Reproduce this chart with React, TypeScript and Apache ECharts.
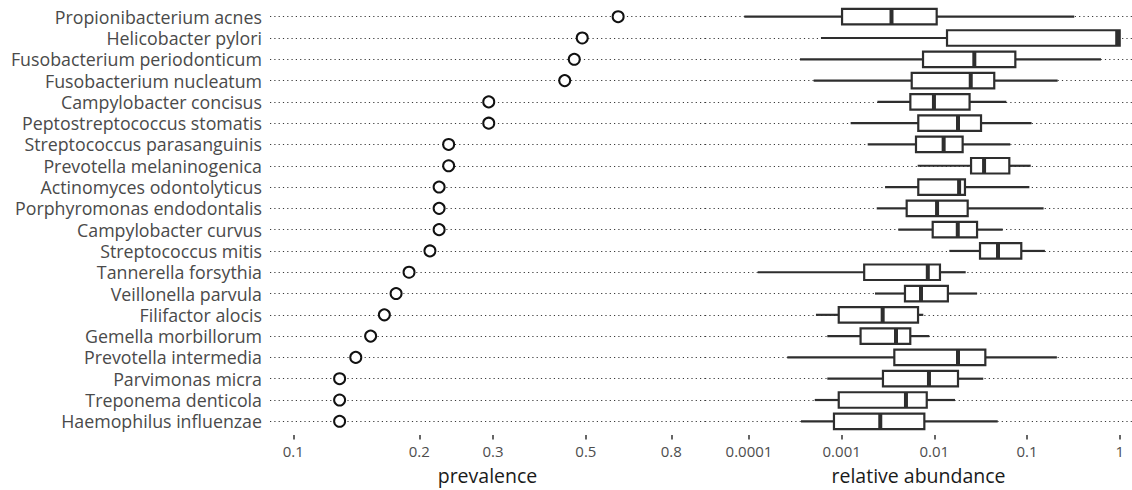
import React, { useEffect, useRef } from "react";
import * as echarts from "echarts";

const categories = [
  "Propionibacterium acnes",
  "Helicobacter pylori",
  "Fusobacterium periodonticum",
  "Fusobacterium nucleatum",
  "Campylobacter concisus",
  "Peptostreptococcus stomatis",
  "Streptococcus parasanguinis",
  "Prevotella melaninogenica",
  "Actinomyces odontolyticus",
  "Porphyromonas endodontalis",
  "Campylobacter curvus",
  "Streptococcus mitis",
  "Tannerella forsythia",
  "Veillonella parvula",
  "Filifactor alocis",
  "Gemella morbillorum",
  "Prevotella intermedia",
  "Parvimonas micra",
  "Treponema denticola",
  "Haemophilus influenzae",
];

const prevalence = [0.597, 0.49, 0.469, 0.445, 0.293, 0.293, 0.235, 0.235, 0.223, 0.223, 0.223, 0.212, 0.189, 0.176, 0.165, 0.153, 0.141, 0.129, 0.129, 0.129];

const whiskerLow = [0.000089, 0.000598, 0.000355, 0.000499, 0.00243, 0.00125, 0.00191, 0.00661, 0.00294, 0.00239, 0.00408, 0.01452, 0.000124, 0.00229, 0.000528, 0.0007, 0.000259, 0.0007, 0.000512, 0.000364];
const q1 = [0.00101, 0.0137, 0.00755, 0.0057, 0.00551, 0.00671, 0.00634, 0.0249, 0.00671, 0.00503, 0.0096, 0.0311, 0.00175, 0.00482, 0.00093, 0.0016, 0.0037, 0.00279, 0.00093, 0.000826];
const median = [0.00345, 0.94, 0.027, 0.0247, 0.0099, 0.018, 0.0126, 0.0344, 0.0185, 0.0107, 0.0179, 0.0486, 0.0085, 0.00718, 0.00277, 0.00386, 0.018, 0.00875, 0.00494, 0.00261];
const q3 = [0.0106, 1.0, 0.0748, 0.0443, 0.024, 0.0319, 0.0202, 0.0644, 0.0214, 0.0229, 0.0289, 0.0867, 0.0115, 0.014, 0.00667, 0.0055, 0.0355, 0.018, 0.00828, 0.0078];
const whiskerHigh = [0.323, 1.0, 0.628, 0.214, 0.0598, 0.112, 0.066, 0.1096, 0.106, 0.151, 0.0547, 0.156, 0.0218, 0.0289, 0.0076, 0.00883, 0.21, 0.0337, 0.0167, 0.0483];

const prevTickValues = [0.1, 0.2, 0.3, 0.5, 0.8];
const prevTickLabels = ["0.1", "0.2", "0.3", "0.5", "0.8"];
const abundTickValues = [0.0001, 0.001, 0.01, 0.1, 1];
const abundTickLabels = ["0.0001", "0.001", "0.01", "0.1", "1"];

const FONT = "'Open Sans', 'Noto Sans', sans-serif";
const lg = (v: number) => Math.log10(v);

function labelFor(values: number[], labels: string[]) {
  const logs = values.map(lg);
  return (v: number) => {
    const i = logs.findIndex((t) => Math.abs(t - v) < 1e-6);
    return i >= 0 ? labels[i] : "";
  };
}

export default function App() {
  const ref = useRef<HTMLDivElement>(null);
  useEffect(() => {
    if (!ref.current) return;
    const chart = echarts.init(ref.current, null, { renderer: "svg" });
    const gridTop = 16.7;
    const gridHeight = 406.3;
    const dotted = { color: "#3a3a3a", width: 1.1, type: [1.2, 3.1] as number[] };

    const yAxisBase = {
      type: "category" as const,
      data: categories,
      inverse: true,
      boundaryGap: false,
      axisLine: { show: false },
      axisTick: { show: false },
      splitLine: { show: true, interval: 0, lineStyle: dotted },
    };

    const xAxisBase = {
      type: "value" as const,
      position: "bottom" as const,
      offset: 13.7,
      axisLine: { show: false },
      splitLine: { show: false },
      nameLocation: "middle" as const,
      nameGap: 30,
      nameTextStyle: { fontFamily: FONT, fontSize: 19.5, color: "#1a1a1a" },
    };

    const boxData = categories.map((_, i) => [
      i,
      lg(whiskerLow[i]),
      lg(q1[i]),
      lg(median[i]),
      lg(q3[i]),
      lg(whiskerHigh[i]),
    ]);

    const tickLabelStyle = {
      fontFamily: FONT,
      fontSize: 15,
      color: "#4d4d4d",
      margin: 8,
    };

    chart.setOption({
      animation: false,
      grid: [
        { left: 270, width: 435, top: gridTop, height: gridHeight },
        { left: 705, width: 427, top: gridTop, height: gridHeight },
      ],
      xAxis: [
        {
          ...xAxisBase,
          gridIndex: 0,
          min: -1.0557,
          max: -0.0165,
          name: "prevalence",
          axisTick: {
            show: true,
            length: 4.5,
            customValues: prevTickValues.map(lg),
            lineStyle: { color: "#333", width: 1.5 },
          },
          axisLabel: {
            ...tickLabelStyle,
            customValues: prevTickValues.map(lg),
            formatter: labelFor(prevTickValues, prevTickLabels),
          },
        },
        {
          ...xAxisBase,
          gridIndex: 1,
          min: -4.4745,
          max: 0.1327,
          name: "relative abundance",
          axisTick: {
            show: true,
            length: 4.5,
            customValues: abundTickValues.map(lg),
            lineStyle: { color: "#333", width: 1.5 },
          },
          axisLabel: {
            ...tickLabelStyle,
            customValues: abundTickValues.map(lg),
            formatter: labelFor(abundTickValues, abundTickLabels),
          },
        },
      ],
      yAxis: [
        {
          ...yAxisBase,
          gridIndex: 0,
          axisLabel: {
            show: true,
            interval: 0,
            margin: 8,
            fontFamily: FONT,
            fontSize: 17.8,
            lineHeight: 20,
            color: "#4a4a4a",
          },
        },
        {
          ...yAxisBase,
          gridIndex: 1,
          axisLabel: { show: false },
        },
      ],
      series: [
        {
          type: "scatter",
          xAxisIndex: 0,
          yAxisIndex: 0,
          symbol: "circle",
          symbolSize: 11,
          itemStyle: { color: "#ffffff", borderColor: "#111111", borderWidth: 2, opacity: 1 },
          data: categories.map((c, i) => [lg(prevalence[i]), c]),
          z: 5,
        },
        {
          type: "custom",
          xAxisIndex: 1,
          yAxisIndex: 1,
          data: boxData,
          z: 5,
          renderItem: (params: any, api: any) => {
            const idx = api.value(0);
            const pLow = api.coord([api.value(1), idx]);
            const pQ1 = api.coord([api.value(2), idx]);
            const pMed = api.coord([api.value(3), idx]);
            const pQ3 = api.coord([api.value(4), idx]);
            const pHigh = api.coord([api.value(5), idx]);
            const y = pLow[1];
            const h = 15.5;
            const stroke = "#2e2e2e";
            return {
              type: "group",
              children: [
                {
                  type: "line",
                  shape: { x1: pLow[0], y1: y, x2: pQ1[0], y2: y },
                  style: { stroke, lineWidth: 2.2 },
                },
                {
                  type: "line",
                  shape: { x1: pQ3[0], y1: y, x2: pHigh[0], y2: y },
                  style: { stroke, lineWidth: 2.2 },
                },
                {
                  type: "rect",
                  shape: { x: pQ1[0], y: y - h / 2, width: pQ3[0] - pQ1[0], height: h },
                  style: { fill: "#ffffff", stroke, lineWidth: 2.2 },
                },
                {
                  type: "line",
                  shape: { x1: pMed[0], y1: y - h / 2, x2: pMed[0], y2: y + h / 2 },
                  style: { stroke, lineWidth: 4 },
                },
              ],
            };
          },
        },
      ],
    });
    return () => chart.dispose();
  }, []);
  return (
    <div
      ref={ref}
      style={{ position: "fixed", left: 0, top: 0, width: 1132, height: 490, background: "#ffffff" }}
    />
  );
}
